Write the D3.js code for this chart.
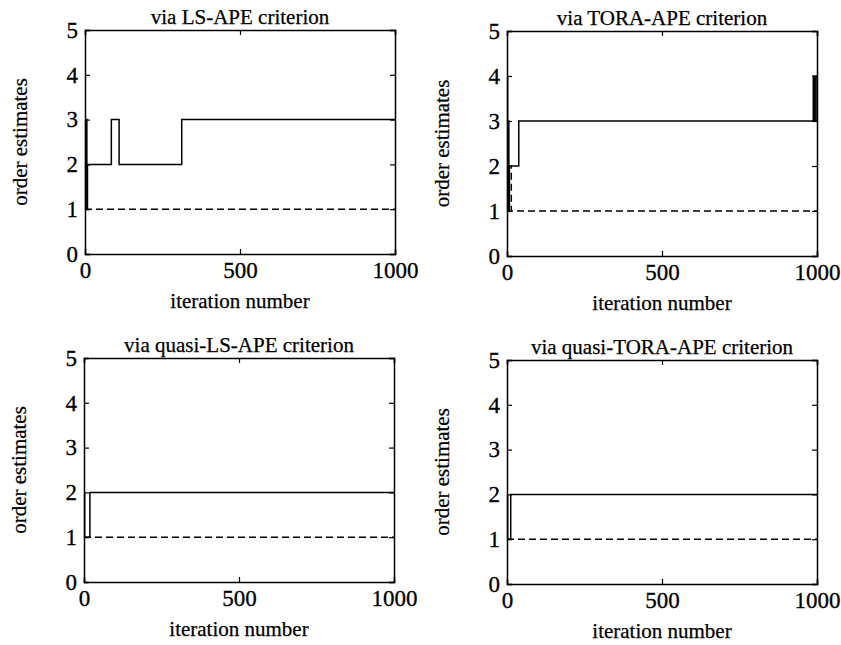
<!DOCTYPE html>
<html><head><meta charset="utf-8">
<script src="https://cdn.jsdelivr.net/npm/d3@7"></script>
<style>body{margin:0;background:#fff}svg{display:block}text{font-family:"Liberation Serif","Times New Roman",serif;fill:#000}</style>
</head><body><svg id="c" width="841" height="645"></svg>
<script>
// ---- data ----
const xTicks = [0, 500, 1000];
const yTicks = [0, 1, 2, 3, 4, 5];
const titles = ["via LS-APE criterion", "via TORA-APE criterion", "via quasi-LS-APE criterion", "via quasi-TORA-APE criterion"];
const xLabel = "iteration number";
const yLabel = "order estimates";
// solid = estimated order (iteration, order); dashed = second estimate
const lsApeSolid = [[0,3],[2,1],[4,3],[6,1],[8,2],[85,3],[110,2],[312,3],[1000,3]];
const lsApeDashed = [[0,1],[1000,1]];
const toraApeSolid = [[0,4],[2,1],[4,3],[6,1],[8,2],[38,3],[988,4],[992,3],[997,4],[1000,4]];
const toraApeDashed = [[0,2],[14,1],[1000,1]];
const qLsApeSolid = [[0,2],[2,1],[19,2],[1000,2]];
const qLsApeDashed = [[0,1],[1000,1]];
const qToraApeSolid = [[0,2],[2,1],[12,2],[1000,2]];
const qToraApeDashed = [[0,1],[1000,1]];

const seriesSets = [
  [lsApeSolid, lsApeDashed],
  [toraApeSolid, toraApeDashed],
  [qLsApeSolid, qLsApeDashed],
  [qToraApeSolid, qToraApeDashed]
];
// layout boxes (left, right, top, bottom)
const boxes = [
  {l:85, r:395, t:30, b:254},
  {l:507, r:817, t:31, b:256},
  {l:84, r:394, t:358, b:582},
  {l:507, r:817, t:360, b:584}
];

const svg = d3.select("#c");
const FS = 21, TFS = 23;

boxes.forEach((bx, i) => {
  const x = d3.scaleLinear().domain([0, 1000]).range([bx.l, bx.r]);
  const y = d3.scaleLinear().domain([0, 5]).range([bx.b, bx.t]);
  const g = svg.append("g");
  const tl = 5;

  const axB = g.append("g").attr("transform", `translate(0,${bx.b})`)
    .call(d3.axisBottom(x).tickValues(xTicks).tickSize(-tl).tickPadding(tl + 3).tickFormat(d3.format("d")));
  const axT = g.append("g").attr("transform", `translate(0,${bx.t})`)
    .call(d3.axisTop(x).tickValues(xTicks).tickSize(-tl).tickFormat(""));
  const axL = g.append("g").attr("transform", `translate(${bx.l},0)`)
    .call(d3.axisLeft(y).tickValues(yTicks).tickSize(-tl).tickPadding(tl + 2).tickFormat(d3.format("d")));
  const axR = g.append("g").attr("transform", `translate(${bx.r},0)`)
    .call(d3.axisRight(y).tickValues(yTicks).tickSize(-tl).tickFormat(""));
  [axB, axT, axL, axR].forEach(a => {
    a.select(".domain").attr("stroke", "#000").attr("stroke-width", 1.5);
    a.selectAll(".tick line").attr("stroke", "#000").attr("stroke-width", 1.2);
    a.selectAll("text").attr("font-size", TFS).attr("font-family", "Liberation Serif")
      .attr("fill", "#000").attr("stroke", "#000").attr("stroke-width", 0.3);
  });

  const line = d3.line().x(d => x(d[0])).y(d => y(d[1])).curve(d3.curveStepAfter);
  const [solid, dashed] = seriesSets[i];
  g.append("path").datum(dashed).attr("d", line).attr("fill", "none")
    .attr("stroke", "#000").attr("stroke-width", 1.4).attr("stroke-dasharray", "7,4");
  g.append("path").datum(solid).attr("d", line).attr("fill", "none")
    .attr("stroke", "#000").attr("stroke-width", 1.5);

  const lab = (sel) => sel.attr("font-size", FS).attr("stroke", "#000").attr("stroke-width", 0.25);
  g.append("text").attr("x", (bx.l + bx.r) / 2).attr("y", bx.t - 6)
    .attr("text-anchor", "middle").call(lab).text(titles[i]);
  g.append("text").attr("x", (bx.l + bx.r) / 2).attr("y", bx.b + 54)
    .attr("text-anchor", "middle").call(lab).text(xLabel);
  g.append("text").attr("transform", `translate(${bx.l - 58},${(bx.t + bx.b) / 2}) rotate(-90)`)
    .attr("text-anchor", "middle").call(lab).text(yLabel);
});
</script></body></html>
